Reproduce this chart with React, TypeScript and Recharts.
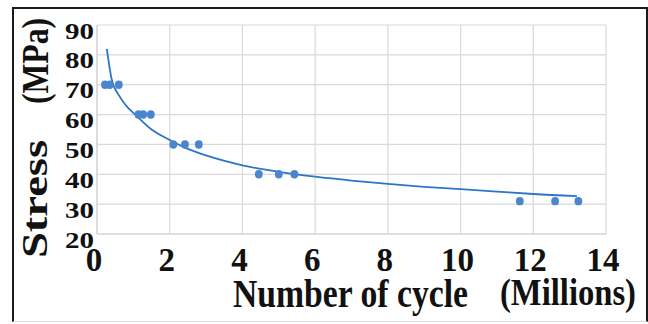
import { ComposedChart, Line, Scatter, XAxis, YAxis, CartesianGrid } from 'recharts'

// fatigue test results: cycles in millions vs stress
const cycles = [0.22, 0.35, 0.6, 1.14, 1.27, 1.48, 2.1, 2.42, 2.8, 4.45, 5.0, 5.43, 11.63, 12.6, 13.24]
const stress = [70, 70, 70, 60, 60, 60, 50, 50, 50, 40, 40, 40, 31, 31, 31]

// fitted trend curve
const trendCycles = [0.27, 0.4, 0.6, 0.8, 1.05, 1.5, 2, 2.5, 3, 4, 5, 6, 7, 8, 9, 10, 11, 12, 13.2]
const trendStress = [82, 72, 66.5, 63, 60, 55, 51.5, 48.5, 46.3, 43, 40.8, 39.2, 37.9, 36.8, 35.8, 35, 34.2, 33.4, 32.7]

const xTicks = [0, 2, 4, 6, 8, 10, 12, 14]
const yTicks = [20, 30, 40, 50, 60, 70, 80, 90]

const points = cycles.map((x, i) => ({ x, y: stress[i] }))
const trend = trendCycles.map((x, i) => ({ x, y: trendStress[i] }))

const FONT = '"Liberation Serif", "Times New Roman", serif'
const DOT = '#4a86d0'
const LINE = '#2e75c8'
const textStyle = { fontFamily: FONT, fontWeight: 700 }

function YTick({ x, y, payload }: any) {
  return (
    <text x={x} y={y + 13.5} textAnchor="end" style={textStyle} fontSize={24}
      textLength={29} lengthAdjust="spacingAndGlyphs" fill="#111">
      {payload.value}
    </text>
  )
}

function XTick({ x, y, payload }: any) {
  return (
    <text x={x - 3} y={y + 37} textAnchor="middle" style={textStyle} fontSize={33} fill="#111">
      {payload.value}
    </text>
  )
}

function Dot({ cx, cy }: any) {
  return <ellipse cx={cx} cy={cy} rx={3.9} ry={4.2} fill={DOT} />
}

export default function App() {
  return (
    <div style={{ position: 'absolute', left: 0, top: 0, width: 648, height: 324, background: '#fff' }}>
      <div style={{
        position: 'absolute', left: 12, top: 7, width: 632, height: 312,
        borderLeft: '2px solid #1a1a1a', borderTop: '2px solid #1a1a1a', borderRight: '2px solid #1a1a1a',
        borderBottom: '1px solid #ddd'
      }} />
      <ComposedChart width={648} height={324} margin={{ top: 25, right: 42, bottom: 30, left: 13 }}
        style={{ position: 'absolute', left: 0, top: 0 }}>
        <CartesianGrid stroke="#d9d9d9" strokeWidth={1.2} />
        <XAxis type="number" dataKey="x" domain={[0, 14]} ticks={xTicks} height={60}
          axisLine={{ stroke: '#d0d0d0' }} tickLine={false} tickSize={0} tickMargin={0} tick={<XTick />} />
        <YAxis type="number" dataKey="y" domain={[20, 90]} ticks={yTicks} width={84}
          axisLine={{ stroke: '#d0d0d0' }} tickLine={false} tickSize={0} tickMargin={3} tick={<YTick />} />
        <Line data={trend} dataKey="y" type="monotone" stroke={LINE} strokeWidth={1.8} dot={false}
          activeDot={false} isAnimationActive={false} />
        <Scatter data={points} dataKey="y" shape={<Dot />} isAnimationActive={false} />
      </ComposedChart>
      <svg width={648} height={324} style={{ position: 'absolute', left: 0, top: 0, pointerEvents: 'none' }}>
        <g style={textStyle} fill="#111">
          <text transform="translate(47,258) rotate(-90)" fontSize={36} textLength={118} lengthAdjust="spacingAndGlyphs">Stress</text>
          <text transform="translate(48,104) rotate(-90)" fontSize={38} textLength={86} lengthAdjust="spacingAndGlyphs">(MPa)</text>
          <text x={233} y={307} fontSize={41} textLength={235} lengthAdjust="spacingAndGlyphs">Number of cycle</text>
          <text x={500} y={305} fontSize={37} textLength={136} lengthAdjust="spacingAndGlyphs">(Millions)</text>
        </g>
      </svg>
    </div>
  )
}
